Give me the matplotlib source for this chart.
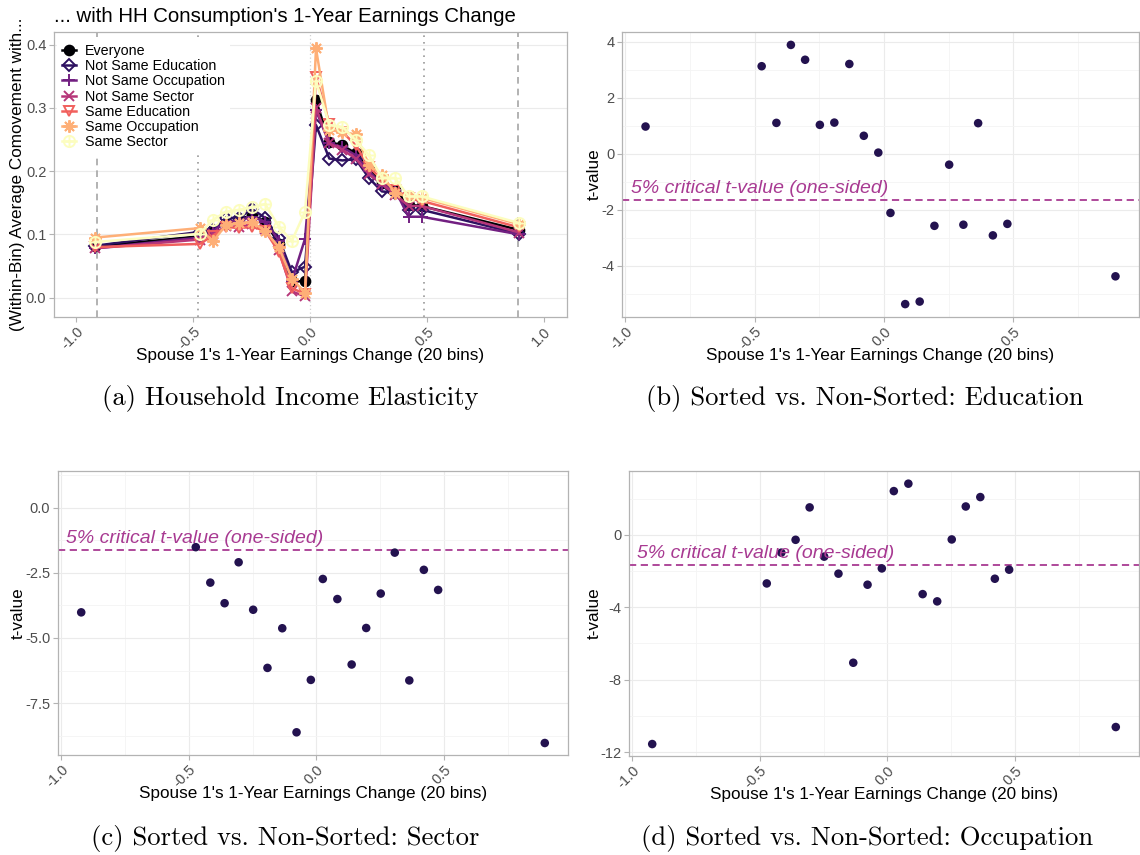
import matplotlib
matplotlib.use("Agg")
import matplotlib.pyplot as plt
from matplotlib.path import Path
from matplotlib.lines import Line2D

plt.rcParams['font.family'] = ['Liberation Sans', 'DejaVu Sans']
plt.rcParams['axes.unicode_minus'] = False

# bin centres of spouse 1's earnings change (20 bins)
bins = [-0.922, -0.473, -0.416, -0.360, -0.305, -0.248, -0.192, -0.134, -0.078, -0.022,
        0.025, 0.082, 0.138, 0.195, 0.252, 0.307, 0.364, 0.421, 0.477, 0.895]

# panel (a): average comovement by group
groups = ['Everyone', 'Not Same Education', 'Not Same Occupation', 'Not Same Sector',
          'Same Education', 'Same Occupation', 'Same Sector']
everyone = [0.081, 0.097, 0.107, 0.118, 0.124, 0.130, 0.120, 0.085, 0.026, 0.026,
            0.312, 0.246, 0.241, 0.228, 0.203, 0.182, 0.170, 0.147, 0.145, 0.107]
not_same_edu = [0.082, 0.104, 0.107, 0.126, 0.126, 0.140, 0.126, 0.094, 0.040, 0.049,
                0.273, 0.220, 0.217, 0.219, 0.189, 0.168, 0.166, 0.139, 0.139, 0.101]
not_same_occ = [0.078, 0.095, 0.105, 0.120, 0.122, 0.128, 0.120, 0.090, 0.027, 0.093,
                0.296, 0.244, 0.238, 0.225, 0.200, 0.178, 0.170, 0.128, 0.128, 0.100]
not_same_sec = [0.078, 0.092, 0.100, 0.113, 0.112, 0.116, 0.108, 0.075, 0.010, 0.002,
                0.300, 0.244, 0.234, 0.220, 0.195, 0.180, 0.163, 0.145, 0.145, 0.103]
same_edu = [0.080, 0.085, 0.098, 0.112, 0.110, 0.112, 0.106, 0.072, 0.015, 0.006,
            0.349, 0.275, 0.262, 0.241, 0.207, 0.186, 0.171, 0.157, 0.153, 0.111]
same_occ = [0.095, 0.110, 0.089, 0.115, 0.118, 0.120, 0.105, 0.080, 0.030, 0.008,
            0.394, 0.265, 0.262, 0.258, 0.210, 0.194, 0.165, 0.160, 0.158, 0.116]
same_sec = [0.088, 0.101, 0.123, 0.136, 0.139, 0.143, 0.148, 0.112, 0.090, 0.136,
            0.343, 0.273, 0.270, 0.249, 0.225, 0.190, 0.189, 0.160, 0.160, 0.118]
vlines_dashed = [-0.91, 0.89]
vlines_dotted = [-0.48, 0.485]

# panels (b)-(d): t-values, sorted vs non-sorted
t_edu = [0.97, 3.12, 1.10, 3.88, 3.35, 1.03, 1.11, 3.20, 0.64, 0.04,
         -2.11, -5.36, -5.27, -2.57, -0.39, -2.53, 1.09, -2.91, -2.50, -4.37]
t_sec = [-4.02, -1.52, -2.88, -3.67, -2.10, -3.92, -6.15, -4.63, -8.62, -6.61,
         -2.74, -3.51, -6.02, -4.62, -3.30, -1.73, -6.63, -2.39, -3.16, -9.03]
t_occ = [-11.56, -2.69, -0.99, -0.28, 1.51, -1.21, -2.15, -7.07, -2.76, -1.86,
         2.41, 2.82, -3.28, -3.68, -0.26, 1.56, 2.08, -2.43, -1.93, -10.62]
t_crit = -1.645

magma = ['#000004', '#2D1160', '#721F81', '#B63679', '#F1605D', '#FEAF77', '#FCFDBF']
circ_plus = Path.make_compound_path(Path.unit_circle(),
                                    Path([[-1, 0], [1, 0]], [1, 2]),
                                    Path([[0, -1], [0, 1]], [1, 2]))
markers = ['o', 'D', '+', 'x', 'v', (8, 2, 0), circ_plus]
filled = [True, False, False, False, False, False, False]
msizes = [7, 6.5, 9, 7.5, 7.5, 9, 8]

W, H = 1140, 855
fig = plt.figure(figsize=(W / 100, H / 100), dpi=100)


def box(l, t, r, b):
    return [l / W, 1 - b / H, (r - l) / W, (b - t) / H]


def style(ax, xt, xl, yt, yl, xminor=None, yminor=None):
    for s in ax.spines.values():
        s.set_color('#B3B3B3')
        s.set_linewidth(0.9)
    ax.set_xticks(xt)
    ax.set_xticklabels(xl, rotation=45, ha='right', va='top', rotation_mode='anchor')
    ax.set_yticks(yt)
    ax.set_yticklabels(yl)
    ax.tick_params(length=3.5, width=0.8, color='#B3B3B3', labelcolor='#4D4D4D',
                   labelsize=10.5, pad=2)
    if xminor is not None:
        ax.set_xticks(xminor, minor=True)
    if yminor is not None:
        ax.set_yticks(yminor, minor=True)
    ax.tick_params(which='minor', length=0)
    ax.set_axisbelow(True)


xt = [-1.0, -0.5, 0.0, 0.5]
xl = ['-1.0', '-0.5', '0.0', '0.5']
lab = 12.3

# ---- panel (a)
ax = fig.add_axes(box(54, 32, 567, 317))
series = [everyone, not_same_edu, not_same_occ, not_same_sec, same_edu, same_occ, same_sec]
handles = []
for i, (name, ys) in enumerate(zip(groups, series)):
    fc = magma[i] if filled[i] else 'none'
    ax.plot(bins, ys, color=magma[i], lw=1.8, marker=markers[i], ms=msizes[i],
            mfc=fc, mec=magma[i], mew=1.4, zorder=3 + i)
    handles.append(Line2D([], [], color=magma[i], lw=1.8, marker=markers[i],
                          ms=msizes[i], mfc=fc, mec=magma[i], mew=1.4))
for v in vlines_dashed:
    ax.axvline(v, color='#A6A6A6', lw=1.2, ls=(0, (4, 3)), zorder=2)
for v in vlines_dotted:
    ax.axvline(v, color='#9A9A9A', lw=1.2, ls=(0, (1, 3)), zorder=2)
ax.axvline(0.0, color='#D0D0D0', lw=0.9, ls=(0, (1, 2)), zorder=2)
ax.set_xlim(-1.096, 1.099)
ax.set_ylim(-0.0305, 0.42)
style(ax, xt + [1.0], xl + ['1.0'], [0.0, 0.1, 0.2, 0.3, 0.4],
      ['0.0', '0.1', '0.2', '0.3', '0.4'])
ax.grid(axis='y', which='major', color='#EBEBEB', lw=0.8)
leg = ax.legend(handles, groups, loc='upper left', bbox_to_anchor=(0.0, 0.985),
                frameon=True, facecolor='white', edgecolor='none', framealpha=1,
                fontsize=10.3, handlelength=1.0, handletextpad=0.6, labelspacing=0.08,
                borderpad=0.35, borderaxespad=0.2)
leg.set_zorder(20)
fig.text(54 / W, 1 - 16 / H, "... with HH Consumption's 1-Year Earnings Change",
         ha='left', va='center', fontsize=14.7)
fig.text(18 / W, 1 - 174.5 / H, '(Within-Bin) Average Comovement with...',
         rotation=90, ha='center', va='center', fontsize=lab)
fig.text(310 / W, 1 - 355 / H, "Spouse 1's 1-Year Earnings Change (20 bins)",
         ha='center', va='center', fontsize=lab)


def tpanel(l, t, r, b, vals, ylim, yt, yl, ymin, ylab_x):
    ax = fig.add_axes(box(l, t, r, b))
    ax.scatter(bins, vals, s=38, color='#23124F', edgecolors='none', zorder=3)
    ax.axhline(t_crit, color='#A83A92', lw=1.3, ls=(0, (4, 2.5)), zorder=2)
    ax.annotate('5% critical t-value (one-sided)', xy=(-0.98, t_crit), xytext=(0, 5),
                textcoords='offset points', ha='left', va='baseline', color='#A83A92',
                fontsize=14, style='italic', zorder=4)
    ax.set_xlim(-1.013, 0.986)
    ax.set_ylim(*ylim)
    style(ax, xt, xl, yt, yl, xminor=[-0.75, -0.25, 0.25, 0.75], yminor=ymin)
    ax.grid(which='major', color='#EBEBEB', lw=0.8)
    ax.grid(which='minor', color='#F4F4F4', lw=0.6)
    fig.text(ylab_x / W, 1 - (t + b) / 2 / H, 't-value', rotation=90,
             ha='center', va='center', fontsize=lab)
    fig.text((l + r) / 2 / W, 1 - (b + 38) / H,
             "Spouse 1's 1-Year Earnings Change (20 bins)",
             ha='center', va='center', fontsize=lab)
    return ax


tpanel(622, 32, 1139, 317, t_edu, (-5.82, 4.34), [-4, -2, 0, 2, 4],
       ['-4', '-2', '0', '2', '4'], [-5, -3, -1, 1, 3], 594)
tpanel(58, 471, 568, 755, t_sec, (-9.49, 1.40), [-7.5, -5.0, -2.5, 0.0],
       ['-7.5', '-5.0', '-2.5', '0.0'], [-8.75, -6.25, -3.75, -1.25, 1.25], 18)
tpanel(629, 471, 1139, 756, t_occ, (-12.22, 3.52), [-12, -8, -4, 0],
       ['-12', '-8', '-4', '0'], [-10, -6, -2, 2], 594)

# sub-captions
cap = dict(ha='center', va='center', fontsize=19.2, family='cmr10')
fig.text(290 / W, 1 - 398 / H, '(a) Household Income Elasticity', **cap)
fig.text(865 / W, 1 - 398 / H, '(b) Sorted vs. Non-Sorted: Education', **cap)
fig.text(285 / W, 1 - 838 / H, '(c) Sorted vs. Non-Sorted: Sector', **cap)
fig.text(867 / W, 1 - 838 / H, '(d) Sorted vs. Non-Sorted: Occupation', **cap)

fig.savefig('out.png', dpi=100)
